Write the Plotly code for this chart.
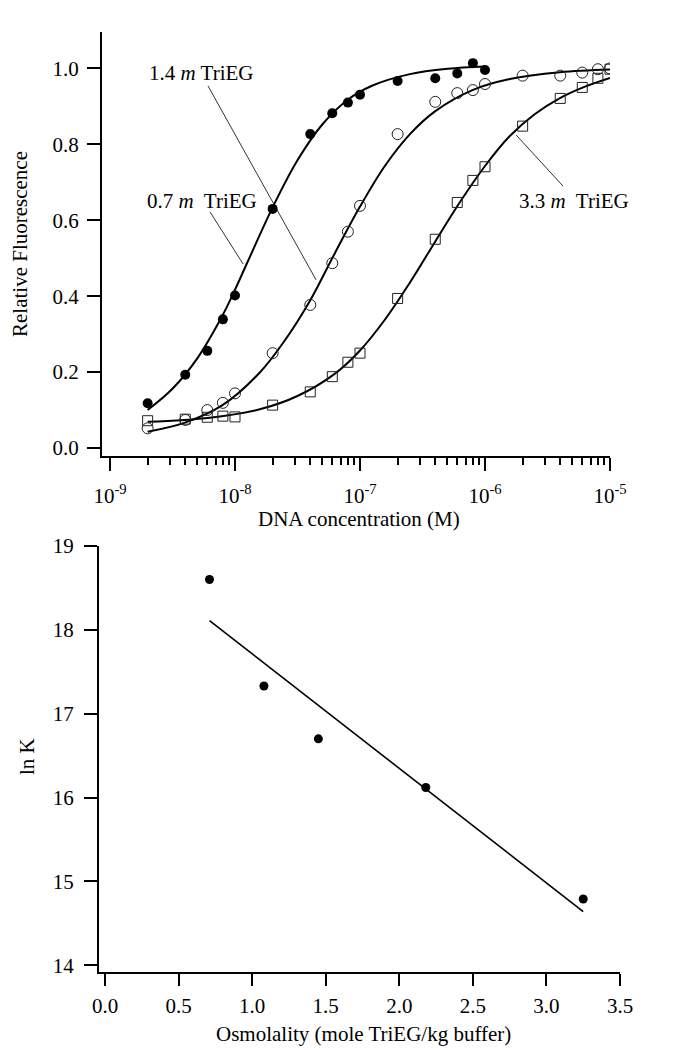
import plotly.graph_objects as go

# ---------------- top panel data ----------------
conc_14 = [2e-9, 4e-9, 6e-9, 8e-9, 1e-8, 2e-8, 4e-8, 6e-8, 8e-8, 1e-7, 2e-7, 4e-7, 6e-7, 8e-7, 1e-6]
fluor_14 = [0.118, 0.193, 0.256, 0.339, 0.402, 0.630, 0.827, 0.882, 0.910, 0.931, 0.967, 0.974, 0.987, 1.014, 0.996]

conc_07 = [2e-9, 4e-9, 6e-9, 8e-9, 1e-8, 2e-8, 4e-8, 6e-8, 8e-8, 1e-7, 2e-7, 4e-7, 6e-7, 8e-7, 1e-6,
           2e-6, 4e-6, 6e-6, 8e-6, 1e-5]
fluor_07 = [0.052, 0.074, 0.100, 0.119, 0.144, 0.250, 0.377, 0.487, 0.570, 0.638, 0.827, 0.912, 0.935, 0.943,
            0.959, 0.981, 0.981, 0.989, 0.998, 1.000]

conc_33 = [2e-9, 4e-9, 6e-9, 8e-9, 1e-8, 2e-8, 4e-8, 6e-8, 8e-8, 1e-7, 2e-7, 4e-7, 6e-7, 8e-7, 1e-6,
           2e-6, 4e-6, 6e-6, 8e-6, 1e-5]
fluor_33 = [0.072, 0.076, 0.081, 0.084, 0.082, 0.113, 0.148, 0.188, 0.226, 0.250, 0.394, 0.550, 0.647, 0.705,
            0.741, 0.848, 0.921, 0.950, 0.974, 0.998]

# fitted curves
curve_14_x = [2.0e-9, 3.16e-9, 5.01e-9, 7.94e-9, 1.0e-8, 1.26e-8, 2.0e-8, 3.16e-8, 5.01e-8, 7.94e-8,
              1.26e-7, 2.51e-7, 5.01e-7, 1.0e-6]
curve_14_y = [0.100, 0.156, 0.237, 0.349, 0.417, 0.490, 0.634, 0.758, 0.853, 0.917, 0.955, 0.985, 0.999, 1.005]

curve_07_x = [2.0e-9, 3.98e-9, 7.94e-9, 1.58e-8, 2.51e-8, 3.98e-8, 6.31e-8, 1.0e-7, 1.58e-7, 2.51e-7,
              3.98e-7, 7.94e-7, 1.58e-6, 3.98e-6, 1.0e-5]
curve_07_y = [0.043, 0.067, 0.113, 0.199, 0.284, 0.388, 0.514, 0.636, 0.743, 0.827, 0.887, 0.943, 0.972,
              0.990, 0.997]

curve_33_x = [2.0e-9, 6.31e-9, 1.58e-8, 3.16e-8, 6.31e-8, 1.0e-7, 1.58e-7, 2.51e-7, 3.98e-7, 6.31e-7,
              1.0e-6, 1.58e-6, 2.51e-6, 3.98e-6, 6.31e-6, 1.0e-5]
curve_33_y = [0.069, 0.080, 0.102, 0.137, 0.196, 0.257, 0.338, 0.436, 0.543, 0.648, 0.743, 0.822, 0.880,
              0.922, 0.952, 0.975]

x_major_vals = [1e-9, 1e-8, 1e-7, 1e-6, 1e-5]
x_major_text = ["10<sup>-9</sup>", "10<sup>-8</sup>", "10<sup>-7</sup>", "10<sup>-6</sup>", "10<sup>-5</sup>"]
x_minor_vals = [m * d for d in [1e-9, 1e-8, 1e-7, 1e-6] for m in range(2, 10)]
y_top_ticks = [0.0, 0.2, 0.4, 0.6, 0.8, 1.0]

# labels with leader lines (log10 x, y)
label_text = ["1.4 <i>m</i> TriEG", "0.7 <i>m</i>\u00a0 TriEG", "3.3 <i>m</i>\u00a0 TriEG"]
label_x = [-8.272, -8.268, -5.288]
label_y = [0.988, 0.651, 0.651]
leader_x0 = [6.08e-9, 6.31e-9, 1.77e-6]
leader_y0 = [0.954, 0.622, 0.825]
leader_x1 = [4.45e-8, 1.16e-8, 4.21e-6]
leader_y1 = [0.443, 0.485, 0.690]

# ---------------- bottom panel data ----------------
osmolality = [0.71, 1.08, 1.45, 2.18, 3.25]
lnK = [18.60, 17.33, 16.70, 16.12, 14.79]
fit_x = [0.71, 3.25]
fit_y = [18.11, 14.64]
x_bot_ticks = [0.0, 0.5, 1.0, 1.5, 2.0, 2.5, 3.0, 3.5]
y_bot_ticks = [14, 15, 16, 17, 18, 19]

FONT = "Liberation Serif, Times New Roman, serif"
# the page body has an 8px margin, so the figure is drawn 8px in from the top-left corner
OFF = 8
W, H = 675 - OFF, 1050 - OFF


def px(x):
    return (x - OFF) / W


def py(y):
    return 1 - (y - OFF) / H


fig = go.Figure()

# curves
for cx, cy in [(curve_14_x, curve_14_y), (curve_07_x, curve_07_y), (curve_33_x, curve_33_y)]:
    fig.add_trace(go.Scatter(x=cx, y=cy, mode="lines", line=dict(color="black", width=2, shape="spline"),
                             xaxis="x", yaxis="y", hoverinfo="skip"))

# leader lines
for x0, y0, x1, y1 in zip(leader_x0, leader_y0, leader_x1, leader_y1):
    fig.add_trace(go.Scatter(x=[x0, x1], y=[y0, y1], mode="lines", line=dict(color="#333333", width=1),
                             xaxis="x", yaxis="y", hoverinfo="skip"))

# markers
fig.add_trace(go.Scatter(x=conc_33, y=fluor_33, mode="markers", xaxis="x", yaxis="y",
                         marker=dict(symbol="square-open", size=10, color="#222222", line=dict(width=1))))
fig.add_trace(go.Scatter(x=conc_07, y=fluor_07, mode="markers", xaxis="x", yaxis="y",
                         marker=dict(symbol="circle-open", size=11, color="#222222", line=dict(width=1))))
fig.add_trace(go.Scatter(x=conc_14, y=fluor_14, mode="markers", xaxis="x", yaxis="y",
                         marker=dict(symbol="circle", size=10, color="black")))

# bottom panel
fig.add_trace(go.Scatter(x=fit_x, y=fit_y, mode="lines", line=dict(color="black", width=1.6),
                         xaxis="x2", yaxis="y2", hoverinfo="skip"))
fig.add_trace(go.Scatter(x=osmolality, y=lnK, mode="markers", marker=dict(symbol="circle", size=9, color="black"),
                         xaxis="x2", yaxis="y2"))

axis_common = dict(showline=True, linecolor="black", linewidth=2, ticks="outside", tickcolor="black",
                   tickwidth=2, showgrid=False, zeroline=False, automargin=False,
                   tickfont=dict(family=FONT, size=21, color="black"))

fig.update_layout(
    template="none",
    width=W, height=H, margin=dict(l=0, r=0, t=0, b=0, pad=0),
    paper_bgcolor="white", plot_bgcolor="white", showlegend=False,
    font=dict(family=FONT, size=21, color="black"),
    xaxis=dict(type="log", domain=[px(102), px(610)], range=[-9.064, -5.0], anchor="y",
               tickmode="array", tickvals=x_major_vals, ticktext=x_major_text, ticklen=13,
               ticklabelstandoff=7,
               minor=dict(tickmode="array", tickvals=x_minor_vals, ticks="outside", ticklen=7,
                          tickwidth=2, tickcolor="black", showgrid=False),
               **axis_common),
    yaxis=dict(domain=[py(456), py(32)], range=[-0.021, 1.096], anchor="x",
               tickmode="array", tickvals=y_top_ticks, tickformat=".1f", ticklen=13,
               ticklabelstandoff=4, **axis_common),
    xaxis2=dict(domain=[px(99), px(620)], range=[-0.041, 3.5], anchor="y2",
                tickmode="array", tickvals=x_bot_ticks, tickformat=".1f", ticklen=12,
                ticklabelstandoff=2, **axis_common),
    yaxis2=dict(domain=[py(972), py(546)], range=[13.92, 19.0], anchor="x2",
                tickmode="array", tickvals=y_bot_ticks, ticklen=13, ticklabelstandoff=6, **axis_common),
)

annotations = []
for t, x, y in zip(label_text, label_x, label_y):
    annotations.append(dict(text=t, x=x, y=y, xref="x", yref="y", showarrow=False,
                            font=dict(family=FONT, size=21, color="black")))

titles = [
    ("Relative Fluorescence", px(20), py(244), -90),
    ("DNA concentration (M)", px(359), py(519), 0),
    ("ln K", px(27), py(757), -90),
    ("Osmolality (mole TriEG/kg buffer)", px(363), py(1034), 0),
]
for t, x, y, ang in titles:
    annotations.append(dict(text=t, x=x, y=y, xref="paper", yref="paper", showarrow=False, textangle=ang,
                            xanchor="center", yanchor="middle",
                            font=dict(family=FONT, size=21, color="black")))
fig.update_layout(annotations=annotations)

fig.write_html("out.html")
